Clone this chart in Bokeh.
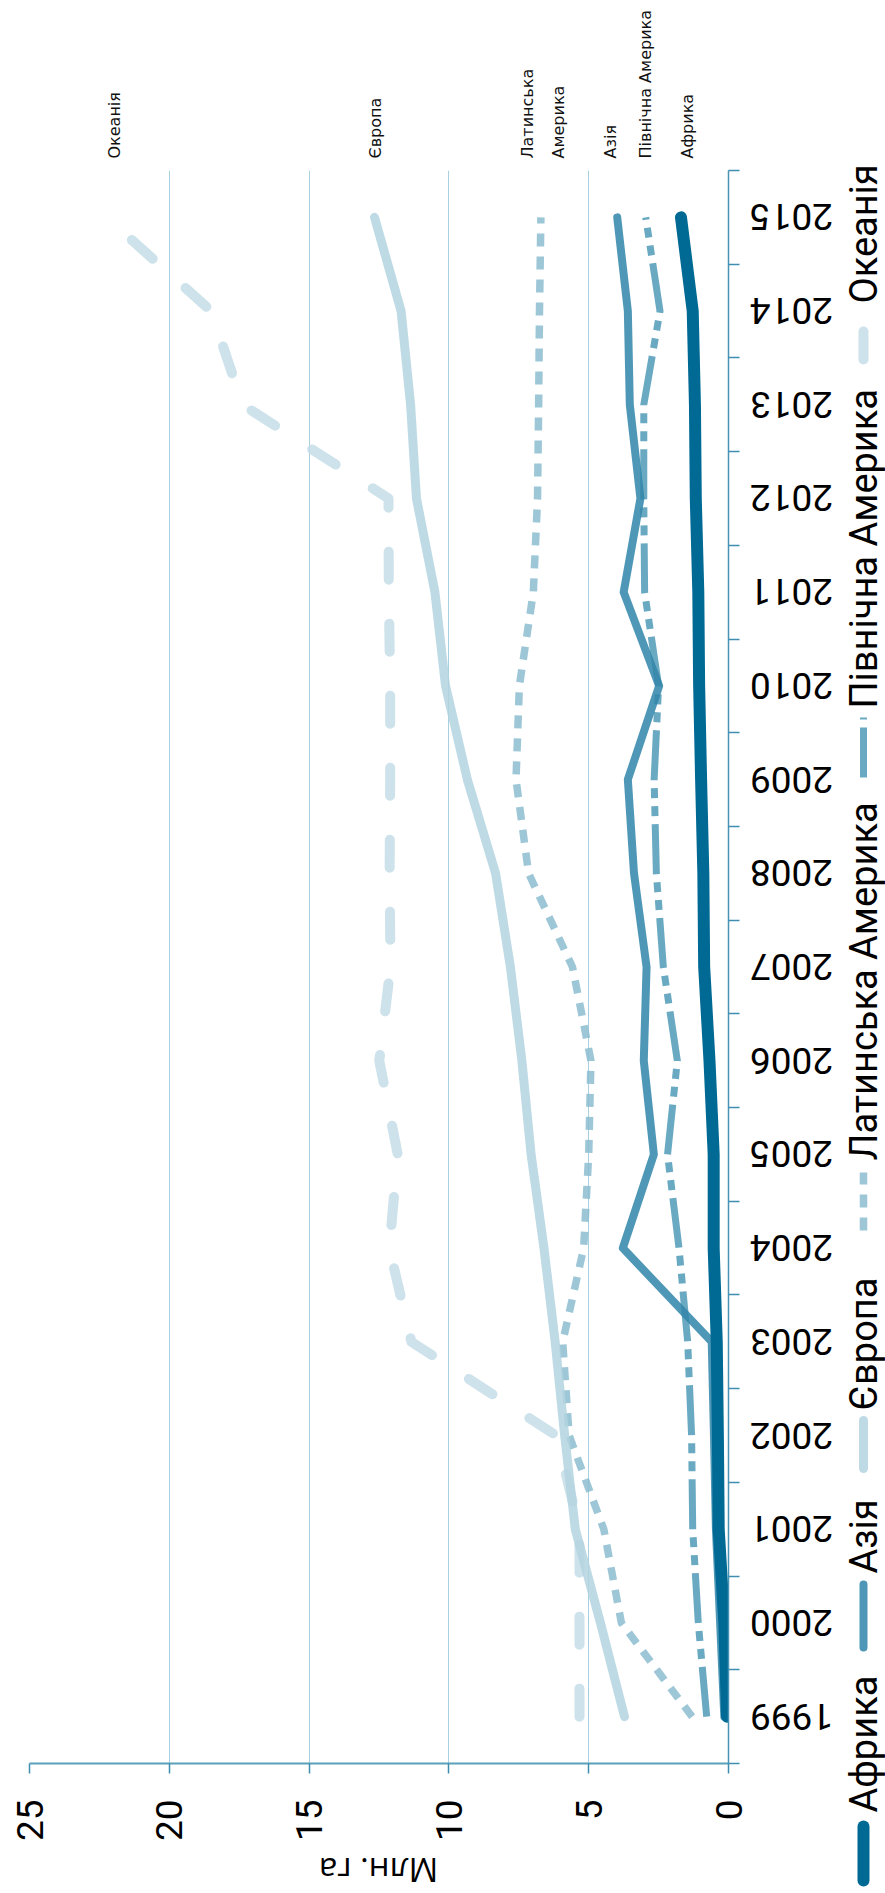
import math
from bokeh.plotting import figure
from bokeh.models import Range1d, FixedTicker, ColumnDataSource
from bokeh.core.properties import value
from bokeh.embed import file_html
from bokeh.resources import INLINE

# ---------------- data ----------------
years = list(range(1999, 2016))
year_labels = [str(y) for y in years]
value_ticks = [0, 5, 10, 15, 20, 25]
axis_title = "Млн. га"

africa = [0.05, 0.15, 0.35, 0.38, 0.42, 0.53, 0.53, 0.68, 0.87, 0.90, 0.98, 1.05, 1.08, 1.17, 1.20, 1.28, 1.70]
asia = [0.15, 0.30, 0.45, 0.52, 0.60, 3.78, 2.67, 3.03, 2.93, 3.38, 3.60, 2.48, 3.75, 3.15, 3.53, 3.60, 3.98]
europe = [3.72, 4.58, 5.48, 5.86, 6.20, 6.60, 7.06, 7.39, 7.80, 8.33, 9.34, 10.12, 10.50, 11.16, 11.37, 11.71, 12.66]
latam = [1.30, 3.83, 4.46, 5.70, 5.93, 5.18, 5.00, 4.92, 5.58, 7.15, 7.60, 7.48, 6.98, 6.83, 6.79, 6.76, 6.71]
north_am = [0.78, 1.08, 1.28, 1.32, 1.46, 1.77, 2.18, 1.83, 2.33, 2.58, 2.66, 2.50, 3.00, 3.03, 3.03, 2.45, 2.96]
oceania = [5.33, 5.33, 5.33, 6.16, 11.34, 12.13, 11.83, 12.49, 12.09, 12.12, 12.10, 12.10, 12.15, 12.16, 17.38, 18.50, 22.25]

series_names = ["Африка", "Азія", "Європа", "Латинська Америка", "Північна Америка", "Океанія"]
end_labels = ["Африка", "Азія", "Європа", "Латинська\nАмерика", "Північна Америка", "Океанія"]
series_values = [africa, asia, europe, latam, north_am, oceania]

# ---------------- styles ----------------
colors = ["#006a94", "#3085a9", "#b3d3df", "#8cbdd0", "#509ab7", "#c4dde6"]
alphas = [1.0, 0.85, 0.85, 0.85, 0.85, 0.85]
widths = [12, 8, 9, 7.5, 7, 10]
dashes = ["solid", "solid", "solid", "13 10", "50 8 10 8 10 8", "28 44"]
caps = ["round", "round", "round", "butt", "butt", "round"]
label_dx = [7, -7, 1, 2, 0, 8]

TICK_FONT = "Roboto"

W, H = 885, 1893
BL, BR, BT, BB = 29, 157, 170, 130
FW, FH = W - BL - BR, H - BT - BB
X0, X1 = 25, 0
Y0, Y1 = years[0] - 0.5, years[-1] + 0.5

p = figure(width=W, height=H, x_range=Range1d(X0, X1), y_range=Range1d(Y0, Y1),
           output_backend="svg", toolbar_location=None, title=None,
           min_border_left=BL, min_border_right=BR, min_border_top=BT, min_border_bottom=BB,
           x_axis_location="below", y_axis_location="right")
p.outline_line_color = None
p.background_fill_color = "white"
p.border_fill_color = "white"

# canvas-pixel -> data helpers (for items drawn outside the frame)
def xv(px):
    return X0 + (px - BL) * (X1 - X0) / FW

def yv(py):
    return Y1 - (py - BT) * (Y1 - Y0) / FH

# value axis (bottom)
xax = p.xaxis[0]
xax.ticker = FixedTicker(ticks=value_ticks)
xax.major_label_orientation = math.pi / 2
xax.major_tick_out = 10
xax.major_tick_in = 0
xax.minor_tick_out = 0
xax.minor_tick_in = 0
xax.axis_line_color = "#5ba0b9"
xax.axis_line_width = 2
xax.major_tick_line_color = "#3f8eb0"
xax.major_tick_line_width = 1.5
xax.major_label_text_font = TICK_FONT
xax.major_label_text_font_size = "37px"
xax.major_label_text_color = "black"
xax.major_label_standoff = 26

# year axis (right): tick marks between the years
yax = p.yaxis[0]
yax.ticker = FixedTicker(ticks=[], minor_ticks=[y - 0.5 for y in years] + [years[-1] + 0.5])
yax.major_tick_out = 0
yax.major_tick_in = 0
yax.minor_tick_out = 11
yax.minor_tick_in = 0
yax.minor_tick_line_color = "#3f8eb0"
yax.minor_tick_line_width = 1.5
yax.axis_line_color = "#4a93b4"
yax.axis_line_width = 1.5

p.ygrid.visible = False
p.xgrid.ticker = FixedTicker(ticks=value_ticks[1:])
p.xgrid.grid_line_color = "#a9cfe0"
p.xgrid.grid_line_width = 1

# series lines (Africa on top)
for i in reversed(range(len(series_names))):
    p.line(series_values[i], years, line_color=colors[i], line_alpha=alphas[i],
           line_width=widths[i], line_dash=dashes[i], line_cap=caps[i], line_join="round")

# year labels (upside down, beside the right axis)
yl = p.text(x=[xv(791)] * len(years), y=years, text=year_labels, angle=math.pi,
            text_align="center", text_baseline="middle", text_font=value(TICK_FONT),
            text_font_size="37px", text_color="black")
yl.level = "overlay"

# axis title (upside down, below the value labels)
at = p.text(x=[xv(378)], y=[yv(1870)], text=[axis_title], angle=math.pi,
            text_align="center", text_baseline="middle", text_font=value("Open Sans"),
            text_font_size="33px", text_color="black")
at.level = "overlay"

# end labels above the plot
last_vals = [v[-1] for v in series_values]
lab_src = ColumnDataSource(dict(x=last_vals, y=[yv(158)] * len(last_vals),
                                text=end_labels, dx=label_dx))
r = p.text(x="x", y="y", text="text", x_offset="dx", source=lab_src, angle=math.pi / 2,
           text_align="left", text_baseline="middle", text_font=value("DejaVu Sans"),
           text_font_size="16px", text_color="#111111", text_line_height=1.6)
r.level = "overlay"

# legend at the right, reading bottom-to-top
leg_sym = [(1880, 1826), (1647, 1584), (1468, 1420), (1230, 1172), (777, 717), (359, 329)]
leg_txt = [1812, 1573, 1410, 1160, 708, 303]
LX = 863
for i in range(len(series_names)):
    b, t = leg_sym[i]
    lr = p.line([xv(LX), xv(LX)], [yv(b), yv(t)], line_color=colors[i], line_alpha=alphas[i],
                line_width=widths[i], line_dash=dashes[i], line_cap=caps[i])
    lr.level = "overlay"
    tr = p.text(x=[xv(LX)], y=[yv(leg_txt[i])], text=[series_names[i]], angle=math.pi / 2,
                text_align="left", text_baseline="middle", text_font=value(TICK_FONT),
                text_font_size="38px", text_color="black")
    tr.level = "overlay"

open("out.html", "w").write(file_html(p, INLINE))
